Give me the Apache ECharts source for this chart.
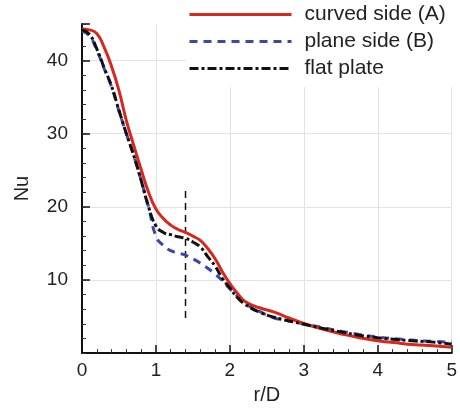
<!DOCTYPE html>
<html>
<head>
<meta charset="utf-8">
<script src="https://cdn.jsdelivr.net/npm/echarts@6/dist/echarts.min.js"></script>
<style>
  html, body { margin: 0; padding: 0; background: #fff; }
  #chart { width: 460px; height: 410px; }
</style>
</head>
<body>
<div id="chart"></div>
<script>
  // r/D sample points
  const rD = [0, 0.1, 0.2, 0.3, 0.4, 0.5, 0.6, 0.7, 0.8, 0.9, 1.0, 1.1, 1.2, 1.3, 1.4, 1.5, 1.6, 1.7, 1.8, 1.9,
    2.0, 2.1, 2.2, 2.4, 2.6, 2.8, 3.0, 3.25, 3.5, 3.75, 4.0, 4.25, 4.5, 4.75, 5.0]
  const curvedA = [44.3, 44.2, 43.7, 41.8, 39.2, 35.9, 31.8, 28.4, 25.1, 22.0, 19.7, 18.4, 17.5, 16.9, 16.5, 16.0, 15.4, 14.3, 12.9, 11.1,
    9.5, 8.2, 7.1, 6.2, 5.6, 4.8, 4.05, 3.3, 2.65, 2.1, 1.7, 1.4, 1.15, 1.0, 0.8]
  const planeB = [44.0, 43.4, 41.4, 38.9, 36.4, 33.1, 30.0, 27.0, 23.6, 20.0, 16.0, 14.7, 14.0, 13.7, 13.4, 12.9, 12.3, 11.6, 10.8, 9.9,
    8.8, 7.8, 6.8, 5.7, 4.8, 4.4, 4.0, 3.5, 3.0, 2.55, 2.2, 1.95, 1.75, 1.6, 1.5]
  const flatPlate = [44.2, 43.6, 41.6, 39.0, 36.5, 33.2, 30.0, 27.0, 23.6, 20.0, 17.4, 16.5, 16.2, 15.9, 15.7, 15.2, 14.5, 13.2, 11.9, 10.2,
    8.9, 7.6, 6.7, 5.6, 4.9, 4.4, 3.95, 3.4, 2.9, 2.45, 2.1, 1.85, 1.65, 1.5, 1.2]
  // vertical marker line
  const markX = [1.4, 1.4]
  const markY = [4.8, 22.6]
  const yLabels = [10, 20, 30, 40]
  const names = ['curved side (A)', 'plane side (B)', 'flat plate']

  const font = '"Liberation Sans", Arial, sans-serif'
  const pairs = (xs, ys) => xs.map((x, i) => [x, ys[i]])

  let myChart = echarts.init(document.getElementById('chart'))
  let option = {
    animation: false,
    textStyle: { fontFamily: font },
    grid: { left: 82, right: 7, top: 24, bottom: 51 },
    legend: {
      data: names,
      orient: 'vertical',
      left: 186,
      top: 0,
      itemWidth: 102,
      itemHeight: 14,
      itemGap: 6,
      padding: [4, 20, 8, 2],
      backgroundColor: '#fff',
      itemStyle: { opacity: 0 },
      lineStyle: { width: 3 },
      textStyle: { fontSize: 21, color: '#222', fontFamily: font, lineHeight: 21, padding: [0, 0, 0, 8] }
    },
    xAxis: {
      type: 'value',
      min: 0, max: 5, interval: 1,
      name: 'r/D',
      nameLocation: 'middle',
      nameGap: 30,
      nameTextStyle: { fontSize: 20, color: '#222' },
      axisLine: { lineStyle: { color: '#111', width: 2 } },
      axisTick: { inside: true, length: 8, lineStyle: { color: '#111', width: 1.5 } },
      minorTick: { show: true, splitNumber: 5, length: 4, lineStyle: { color: '#333', width: 1 } },
      axisLabel: { fontSize: 19, color: '#222', margin: 8 },
      splitLine: { show: true, showMinLine: false, lineStyle: { color: '#e2e2e2', width: 1 } }
    },
    yAxis: [
      {
        type: 'value',
        min: 0, max: 45, interval: 10,
        name: 'Nu',
        nameLocation: 'middle',
        nameGap: 50,
        nameTextStyle: { fontSize: 20, color: '#222' },
        axisLine: { lineStyle: { color: '#111', width: 2 } },
        axisTick: { inside: true, length: 8, lineStyle: { color: '#111', width: 1.5 } },
        axisLabel: {
          fontSize: 19, color: '#222', margin: 14,
          formatter: v => (yLabels.includes(v) ? String(v) : '')
        },
        splitLine: { show: true, showMinLine: false, showMaxLine: false, lineStyle: { color: '#e2e2e2', width: 1 } }
      },
      {
        // minor ticks every 2
        type: 'value',
        position: 'left',
        min: 0, max: 45, interval: 2,
        axisLine: { show: false },
        axisTick: { inside: true, length: 4, lineStyle: { color: '#333', width: 1 } },
        axisLabel: { show: false },
        splitLine: { show: false }
      }
    ],
    series: [
      {
        name: names[0],
        type: 'line',
        data: pairs(rD, curvedA),
        smooth: 0.5,
        showSymbol: false,
        symbol: 'none',
        z: 4,
        lineStyle: { color: '#d8281d', width: 3 },
        itemStyle: { color: '#d8281d' }
      },
      {
        name: names[1],
        type: 'line',
        data: pairs(rD, planeB),
        smooth: 0.5,
        showSymbol: false,
        symbol: 'none',
        z: 3,
        lineStyle: { color: '#3b48a8', width: 3, type: [8, 6] },
        itemStyle: { color: '#3b48a8' }
      },
      {
        name: names[2],
        type: 'line',
        data: pairs(rD, flatPlate),
        smooth: 0.5,
        showSymbol: false,
        symbol: 'none',
        z: 5,
        lineStyle: { color: '#111', width: 3, type: [9, 3, 3, 3] },
        itemStyle: { color: '#111' }
      },
      {
        name: 'marker',
        type: 'line',
        data: pairs(markX, markY),
        showSymbol: false,
        symbol: 'none',
        silent: true,
        z: 2,
        lineStyle: { color: '#111', width: 1.5, type: [7, 5] }
      }
    ]
  }
  myChart.setOption(option)
</script>
</body>
</html>
